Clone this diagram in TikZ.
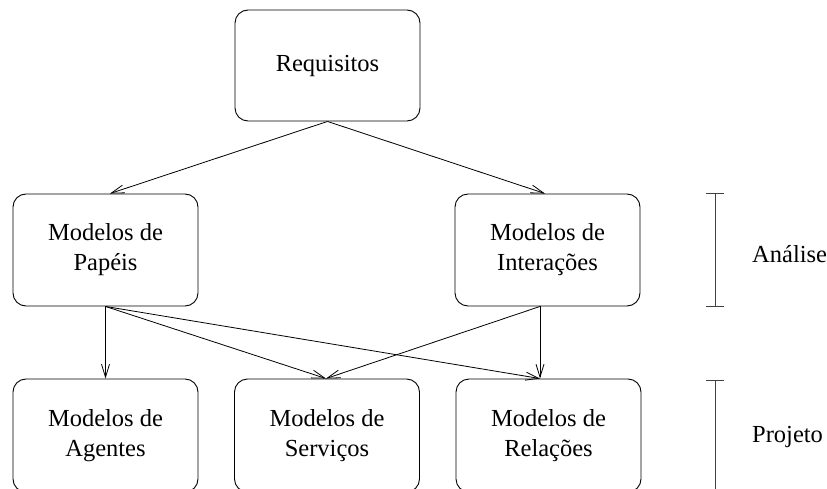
\documentclass[tikz,border=0pt]{standalone}
\usepackage{fontspec}
\setmainfont{Liberation Serif}
\usetikzlibrary{arrows.meta}
\begin{document}
\begin{tikzpicture}[x=1pt,y=-1pt,
  box/.style={draw, line width=0.9pt, rounded corners=13pt, minimum width=185pt, minimum height=111pt,
    inner sep=0pt, align=center, font=\fontsize{24.5}{30}\selectfont},
  arr/.style={line width=0.8pt, -{Straight Barb[length=13pt,width=8pt,line width=0.8pt]}},
  brk/.style={line width=1pt, draw=black!75},
  lbl/.style={anchor=west, inner sep=0pt, font=\fontsize{24.5}{30}\selectfont}]
\useasboundingbox (0,0) rectangle (827,489);
\node[box] (req) at (327.5,65.5) {Requisitos};
\node[box, minimum height=112pt] (pap) at (105.5,250) {Modelos de\\Papéis};
\node[box, minimum height=112pt] (int) at (547.5,250) {Modelos de\\Interações};
\node[box, minimum height=113pt] (age) at (105.5,435.5) {Modelos de\\Agentes};
\node[box, minimum height=113pt] (ser) at (327,435.5) {Modelos de\\Serviços};
\node[box, minimum height=113pt] (rel) at (548.5,435.5) {Modelos de\\Relações};
% connector endpoints on box edges
\coordinate (reqB) at (req.south);
\coordinate (papT) at ([xshift=4.5pt]pap.north);
\coordinate (intT) at ([xshift=-2.5pt]int.north);
\coordinate (papB) at (pap.south);
\coordinate (intB) at ([xshift=-7.5pt]int.south);
\coordinate (ageT) at (age.north);
\coordinate (serT) at ([xshift=-1pt]ser.north);
\coordinate (relT) at ([xshift=-8.5pt]rel.north);
\draw[arr] (reqB) -- (papT);
\draw[arr] (reqB) -- (intT);
\draw[arr] (papB) -- (ageT);
\draw[arr] (papB) -- (serT);
\draw[arr] (papB) -- (relT);
\draw[arr] (intB) -- (serT);
\draw[arr] (intB) -- (relT);
% phase brackets
\coordinate (a1) at (715,194);
\coordinate (a2) at (715,306);
\coordinate (p1) at (715,380);
\coordinate (p2) at (715,489);
\draw[brk] (a1) -- (a2);
\draw[brk] ([xshift=-9pt]a1) -- ([xshift=9pt]a1);
\draw[brk] ([xshift=-9pt]a2) -- ([xshift=9pt]a2);
\draw[brk] (p1) -- (p2);
\draw[brk] ([xshift=-9pt]p1) -- ([xshift=9pt]p1);
\node[lbl] (ana) at (752,254) {Análise};
\node[lbl] (proj) at (752,437) {Projeto};
\end{tikzpicture}
\end{document}
